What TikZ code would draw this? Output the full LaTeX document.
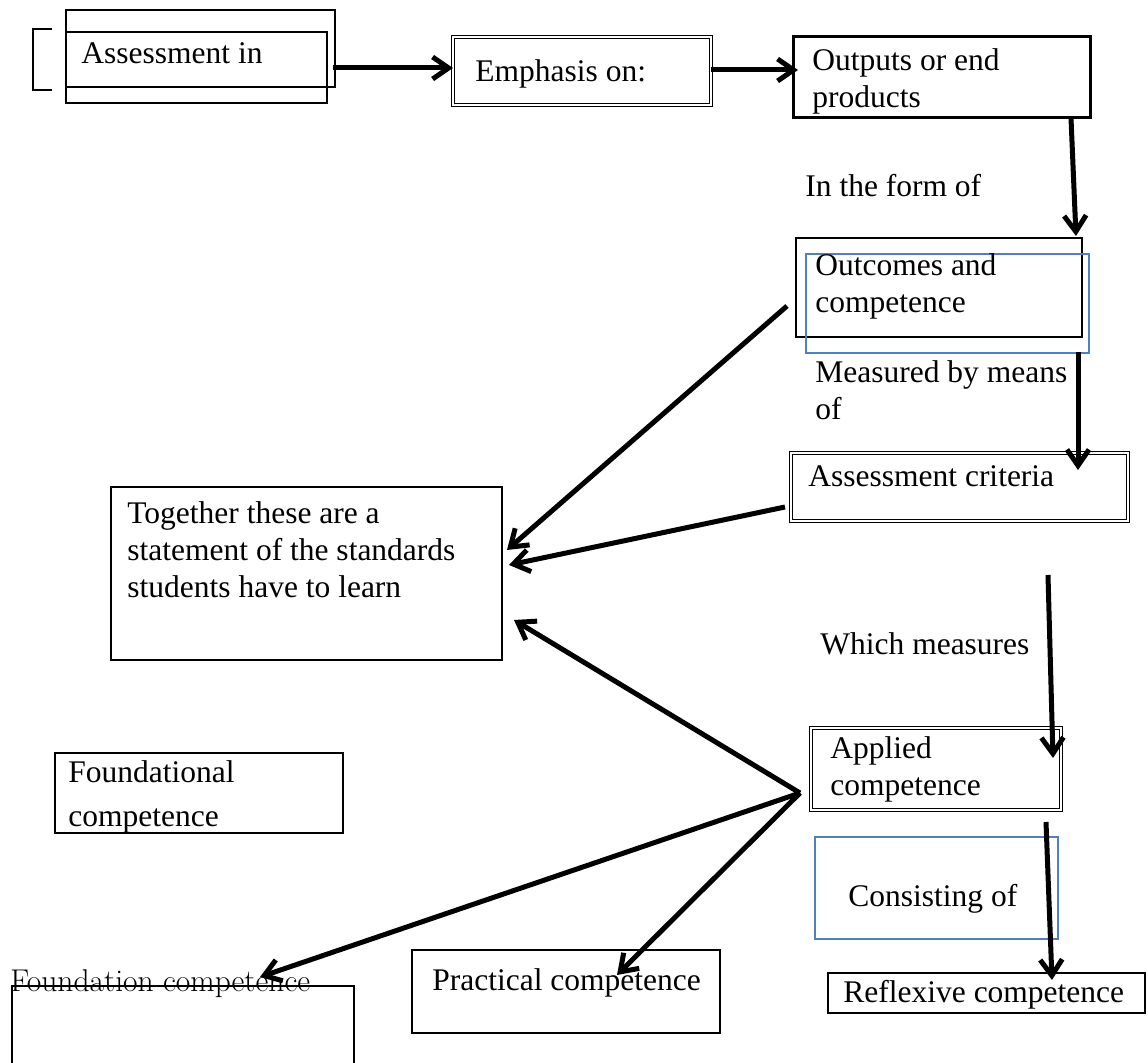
\documentclass[tikz,border=0pt]{standalone}
\usepackage{fontspec}
\setmainfont{Liberation Serif}
\newfontfamily\lmfont{Latin Modern Roman}
\usetikzlibrary{arrows.meta,fit}
\definecolor{wordblue}{HTML}{4F81BD}
\begin{document}
\begin{tikzpicture}[x=0.5pt,y=-0.5pt,
  box/.style={draw, line width=0.75pt, inner sep=0pt},
  dbox/.style={draw, double, double distance=0.9pt, line width=0.5pt, inner sep=0pt},
  bbox/.style={draw=wordblue, line width=0.75pt, inner sep=0pt},
  txt/.style={inner sep=0pt, anchor=base west, font=\fontsize{15.75}{18.5}\selectfont},
  mtxt/.style={inner sep=0pt, anchor=north west, align=left, font=\fontsize{15.75}{18.5}\selectfont},
  arr/.style={-{Straight Barb[length=8pt,width=11pt]}, line width=2.5pt}]
\useasboundingbox (0,0) rectangle (1148,1063);

% boxes
\node[box, fit={(66,10) (335,87)}] (assessA) {};
\node[box, fit={(66,32) (327,103)}] (assessB) {};
\draw[line width=0.75pt] (52,29) -- (33,29) -- (33,90) -- (52,90);
\node[dbox, fit={(453,37) (711,105)}] (emph) {};
\node[draw, line width=1.5pt, inner sep=0pt, fit={(793,37) (1090,118)}] (outputs) {};
\node[box, fit={(796,238) (1082,337)}] (outcomesK) {};
\node[bbox, fit={(806,254) (1089,353)}] (outcomesB) {};
\node[dbox, fit={(791,453) (1128,521)}] (crit) {};
\node[box, fit={(111,487) (502,660)}] (together) {};
\node[dbox, fit={(811,728) (1061,810)}] (applied) {};
\node[box, fit={(55,753) (343,833)}] (found1) {};
\node[bbox, fit={(815,837) (1058,939)}] (consist) {};
\node[draw, line width=1.2pt, inner sep=0pt, fit={(828,973) (1145,1013)}] (reflex) {};
\node[box, fit={(12,986) (354,1075)}] (found2) {};
\node[box, fit={(412,950) (720,1033)}] (practical) {};

% texts
\node[txt] (tAssess) at (81,64) {Assessment in};
\node[txt] (tEmph) at (475,82) {Emphasis on:};
\node[mtxt] (tOut) at (812,44) {\strut Outputs or end\\products};
\node[txt] (tForm) at (805,197) {In the form of};
\node[mtxt] (tOutc) at (815,249) {\strut Outcomes and\\competence};
\node[mtxt] (tMeas) at (815,356) {\strut Measured by means\\of};
\node[txt] (tCrit) at (808,487) {Assessment criteria};
\node[mtxt] (tTog) at (127,497) {\strut Together these are a\\statement of the standards\\students have to learn};
\node[txt] (tWhich) at (820,655) {Which measures};
\node[mtxt] (tApp) at (830,732) {\strut Applied\\competence};
\node[mtxt, font=\fontsize{15.75}{22}\selectfont] (tFound1) at (68,751) {\strut Foundational\\competence};
\node[txt] (tCons) at (848,907) {Consisting of};
\node[txt] (tRefl) at (843,1003) {Reflexive competence};
\node[txt, font=\lmfont\fontsize{15.75}{18.5}\selectfont] (tFound2) at (10,992) {Foundation competence};
\node[txt] (tPrac) at (432,991) {Practical competence};

% connector end points
\coordinate (a1s) at (333,68);   \coordinate (a1e) at (453,68);
\coordinate (a2s) at (711,70);   \coordinate (a2e) at (798,70);
\coordinate (a3s) at (1071,118); \coordinate (a3e) at (1076,236);
\coordinate (a4s) at (1078,352); \coordinate (a4e) at (1078,470);
\coordinate (a5s) at (787,306);  \coordinate (a5e) at (507,550);
\coordinate (a6s) at (785,507);  \coordinate (a6e) at (509,565);
\coordinate (hub) at (800,793);
\coordinate (a7e) at (514,620);
\coordinate (a8e) at (260,977);
\coordinate (a9e) at (617,975);
\coordinate (a10s) at (1048,575); \coordinate (a10e) at (1053,758);
\coordinate (a11s) at (1046,822); \coordinate (a11e) at (1052,980);

\draw[arr] (a1s) -- (a1e);
\draw[arr] (a2s) -- (a2e);
\draw[arr] (a3s) -- (a3e);
\draw[arr] (a4s) -- (a4e);
\draw[arr] (a5s) -- (a5e);
\draw[arr] (a6s) -- (a6e);
\draw[arr] (hub) -- (a7e);
\draw[arr] (hub) -- (a8e);
\draw[arr] (hub) -- (a9e);
\draw[arr] (a10s) -- (a10e);
\draw[arr] (a11s) -- (a11e);
\end{tikzpicture}
\end{document}
